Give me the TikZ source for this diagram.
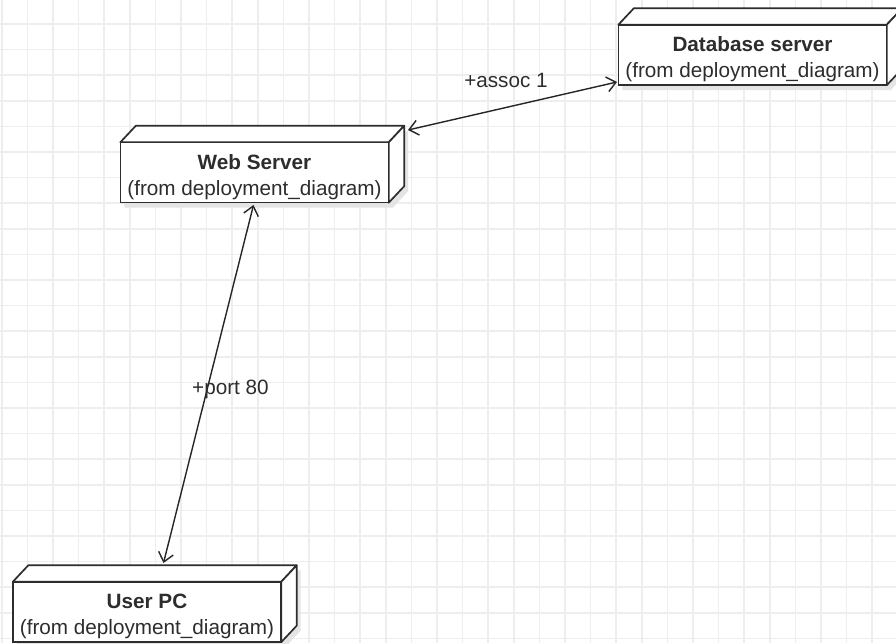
\documentclass[tikz,border=0pt]{standalone}
\usepackage{fontspec}
\setmainfont{Liberation Sans}
\usetikzlibrary{arrows.meta}
\definecolor{gridc}{RGB}{238,238,238}
\definecolor{ink}{RGB}{45,45,45}
\definecolor{shade}{RGB}{228,228,228}
\tikzset{
  umlnode/.style={draw=ink, line width=1.7pt, fill=white, minimum width=268pt,
    minimum height=60pt, inner sep=0pt},
  nodetext/.style={inner sep=0pt, align=center, text=ink,
    font=\fontsize{20.7}{26}\selectfont},
  face/.style={draw=ink, line width=1.7pt, fill=white, line join=round},
  shadowface/.style={fill=shade, draw=none},
  conn/.style={draw=black!85, line width=1.4pt,
    {Straight Barb[length=9pt,width=15pt,line width=1.4pt]}-{Straight Barb[length=9pt,width=15pt,line width=1.4pt]}},
  lbl/.style={text=ink, font=\fontsize{20.7}{26}\selectfont, inner sep=0pt},
  gridline/.style={draw=gridc, line width=1.6pt}
}
\newcommand\depthbox[1]{%
  \fill[shadowface] ([shift={(4,5)}]#1.south west) -- ([shift={(4,5)}]#1.north west)
    -- ([shift={(19.5,-11.5)}]#1.north west) -- ([shift={(19.5,-11.5)}]#1.north east)
    -- ([shift={(19.5,-11.5)}]#1.south east) -- ([shift={(4,5)}]#1.south east) -- cycle;
  \draw[face] (#1.north west) -- ([shift={(15.5,-16.5)}]#1.north west)
    -- ([shift={(15.5,-16.5)}]#1.north east) -- (#1.north east) -- cycle;
  \draw[face] (#1.north east) -- ([shift={(15.5,-16.5)}]#1.north east)
    -- ([shift={(15.5,-16.5)}]#1.south east) -- (#1.south east) -- cycle;
}
\begin{document}
\begin{tikzpicture}[x=1pt, y=-1pt]
  \useasboundingbox (0,0) rectangle (896,643);
  \clip (0,0) rectangle (896,643);
  \fill[white] (0,0) rectangle (896,643);
  % grid
  \foreach \i in {0,...,35} {\draw[gridline] (1.7+25.6*\i,0) -- (1.7+25.6*\i,643);}
  \foreach \j in {0,...,26} {\draw[gridline] (0,-1.6+25.6*\j) -- (896,-1.6+25.6*\j);}
  % node shadows and depth faces
  \path (752.5,55) node[minimum width=268pt, minimum height=60pt, inner sep=0pt] (db) {};
  \path (254.5,172.5) node[minimum width=268pt, minimum height=60pt, inner sep=0pt] (ws) {};
  \path (147,612) node[minimum width=268pt, minimum height=60pt, inner sep=0pt] (pc) {};
  \depthbox{db}
  \depthbox{ws}
  \depthbox{pc}
  % front faces
  \node[umlnode] (dbf) at (db) {};
  \node[umlnode] (wsf) at (ws) {};
  \node[umlnode] (pcf) at (pc) {};
  \node[nodetext] (dbt) at ([yshift=-4.5pt]db.center) {\textbf{Database server}\\(from deployment\_diagram)};
  \node[nodetext] (wst) at ([yshift=-4.5pt]ws.center) {\textbf{Web Server}\\(from deployment\_diagram)};
  \node[nodetext] (pct) at ([yshift=-4.5pt]pc.center) {\textbf{User PC}\\(from deployment\_diagram)};
  % connector end points
  \coordinate (ws-r) at (408,130);
  \coordinate (db-l) at (617,82);
  \coordinate (ws-b) at (253.5,205);
  \coordinate (pc-t) at (163.5,563);
  \draw[conn] (ws-r) -- (db-l);
  \draw[conn] (ws-b) -- (pc-t);
  \node[lbl] (l1) at (506,80) {+assoc 1};
  \node[lbl] (l2) at (230.5,389) {+port 80};
\end{tikzpicture}
\end{document}
